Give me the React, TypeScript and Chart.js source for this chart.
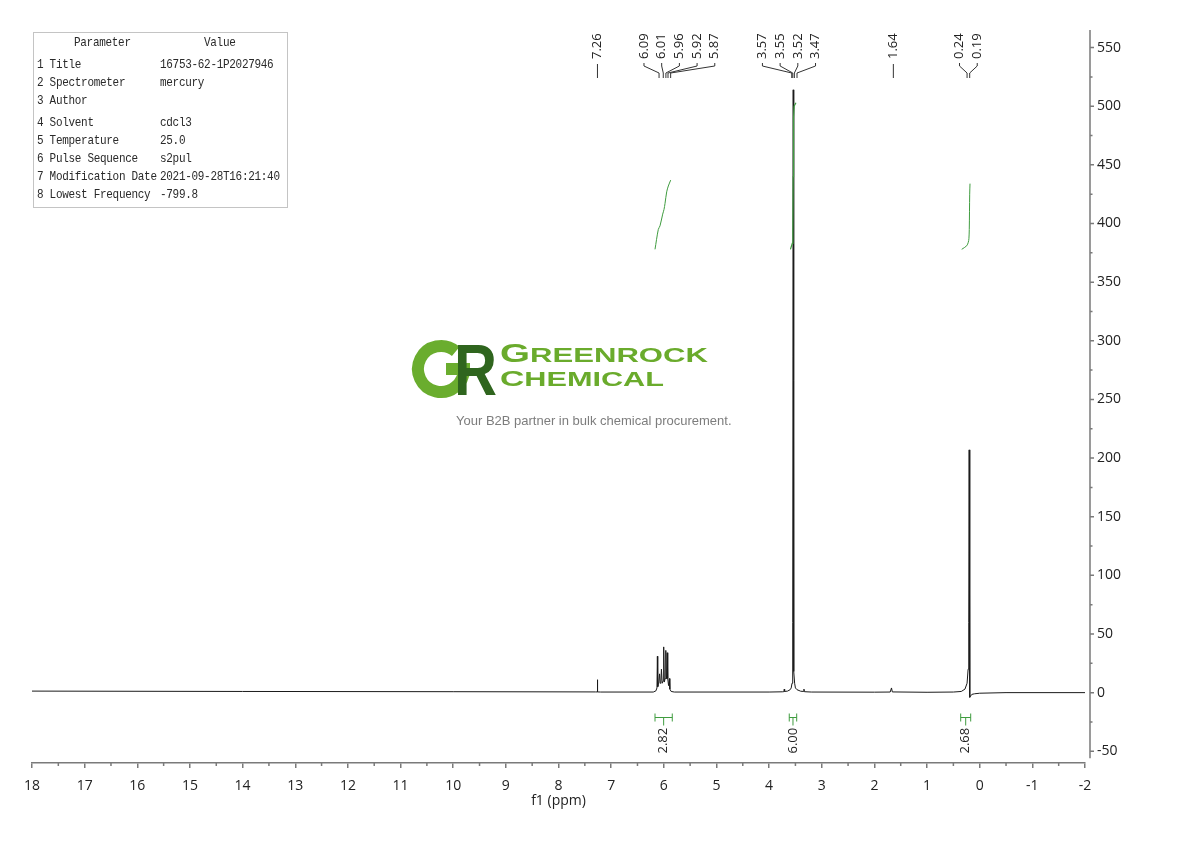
import React, { useEffect, useRef } from 'react';
import { Chart, registerables } from 'chart.js';

Chart.register(...registerables);

// ---------- data ----------
const SPEC_PPM = [
  18.0, 14.0, 10.0, 7.3, 7.268, 7.262, 7.255, 7.2,
  6.2, 6.15, 6.13, 6.122, 6.115, 6.1, 6.08, 6.07, 6.055, 6.045, 6.03, 6.01, 6.002, 5.99,
  5.975, 5.962, 5.952, 5.945, 5.935, 5.925, 5.91, 5.895, 5.885, 5.86, 5.8,
  4.0, 3.75, 3.72, 3.712, 3.705, 3.65, 3.6, 3.58, 3.565, 3.555, 3.548, 3.542, 3.536,
  3.528, 3.515, 3.5, 3.47, 3.4, 3.345, 3.338, 3.33, 3.2,
  2.0, 1.7, 1.675, 1.66, 1.0, 0.5, 0.35, 0.28, 0.24, 0.22, 0.208, 0.2, 0.192, 0.185,
  0.175, 0.15, 0.1, 0.0, -0.5, -2.0,
];
const SPEC_INT = [
  1.3, 1.0, 0.8, 0.6, 0.6, 11, 0.6, 0.5,
  0.5, 1.5, 4, 31, 5, 7, 16, 8, 9, 20, 8, 10, 39, 9,
  12, 36, 14, 12, 34, 12, 6, 12, 3, 1, 0.5,
  0.5, 0.7, 0.8, 3, 1, 1.3, 2.5, 4, 8, 20, 60, 514, 60,
  18, 8, 4, 2.5, 1.2, 1, 3, 0.8, 0.5,
  0.4, 0.5, 4, 0.6, 0.3, 0.5, 1, 3, 8, 20, 60, 207, 40, -4,
  -3, -1.5, -1, -0.5, 0, 0,
];

const INTEGRAL_1_PPM = [6.167, 6.104, 6.072, 6.021, 5.996, 5.977, 5.945, 5.914, 5.869];
const INTEGRAL_1_VAL = [378, 395, 398, 408, 412, 417, 427, 432, 437];
const INTEGRAL_2_PPM = [3.595, 3.56, 3.548, 3.542, 3.536, 3.525, 3.49];
const INTEGRAL_2_VAL = [378, 383, 395, 440, 490, 500, 503];
const INTEGRAL_3_PPM = [0.342, 0.247, 0.217, 0.205, 0.198, 0.19, 0.184];
const INTEGRAL_3_VAL = [378, 381, 384, 387, 395, 425, 434];

const PEAK_GROUPS = [[7.26], [6.09, 6.01, 5.96, 5.92, 5.87], [3.57, 3.55, 3.52, 3.47], [1.64], [0.24, 0.19]];

const INTEGRAL_FROM = [6.167, 3.617, 0.361];
const INTEGRAL_TO = [5.839, 3.476, 0.171];
const INTEGRAL_LABELS = ['2.82', '6.00', '2.68'];

const PARAM_NAMES = ['1 Title', '2 Spectrometer', '3 Author', '4 Solvent', '5 Temperature', '6 Pulse Sequence', '7 Modification Date', '8 Lowest Frequency'];
const PARAM_VALUES = ['16753-62-1P2027946', 'mercury', '', 'cdcl3', '25.0', 's2pul', '2021-09-28T16:21:40', '-799.8'];

const X_MIN = -2;
const X_MAX = 18;
const Y_MIN = -60;
const Y_MAX = 565;
const Y_AXIS_BOTTOM = -56;

// ---------- layout / style ----------
const AXIS_COLOR = '#7a7a7a';
const TEXT_COLOR = '#222';
const SPEC_COLOR = '#1a1a1a';
const GREEN = '#3f9c3f';
const LABEL_GAP = 17.7;
const GROUP_SHIFT = [0, 14, -5, 0, 0];
const ROW_CENTERS = [65, 83, 101, 123, 141, 159, 177, 195];

Chart.defaults.font.family = '"Open Sans", sans-serif';

const axesPlugin = {
  id: 'axesExtra',
  afterDraw(chart: any) {
    const { ctx, chartArea, scales } = chart;
    const x = scales.x;
    const y = scales.y;
    ctx.save();
    ctx.strokeStyle = AXIS_COLOR;
    ctx.lineWidth = 1.5;
    const ax = chartArea.right + 5;
    ctx.beginPath();
    ctx.moveTo(ax, y.getPixelForValue(Y_MAX));
    ctx.lineTo(ax, y.getPixelForValue(Y_AXIS_BOTTOM));
    for (let v = -50; v <= 550; v += 25) {
      const py = y.getPixelForValue(v);
      const len = v % 50 === 0 ? 4 : 2.5;
      ctx.moveTo(ax, py);
      ctx.lineTo(ax + len, py);
    }
    for (let v = X_MIN + 0.5; v < X_MAX; v += 1) {
      const px = x.getPixelForValue(v);
      ctx.moveTo(px, chartArea.bottom);
      ctx.lineTo(px, chartArea.bottom + 3);
    }
    ctx.stroke();
    ctx.restore();
  },
};

const peakLabelPlugin = {
  id: 'peakLabels',
  afterDraw(chart: any) {
    const { ctx, chartArea, scales } = chart;
    const x = scales.x;
    const top = chartArea.top;
    ctx.save();
    ctx.font = '13px "Open Sans", sans-serif';
    ctx.fillStyle = TEXT_COLOR;
    ctx.strokeStyle = '#333';
    ctx.lineWidth = 1;
    PEAK_GROUPS.forEach((g, gi) => {
      const px = g.map((p) => x.getPixelForValue(p));
      const mean = px.reduce((a, b) => a + b, 0) / px.length;
      const n = g.length;
      const start = mean + GROUP_SHIFT[gi] - ((n - 1) * LABEL_GAP) / 2;
      g.forEach((p, i) => {
        const lx = n === 1 ? px[i] : start + i * LABEL_GAP;
        ctx.save();
        ctx.translate(lx, top + 29);
        ctx.rotate(-Math.PI / 2);
        ctx.textAlign = 'left';
        ctx.textBaseline = 'middle';
        ctx.fillText(p.toFixed(2), 0, 0);
        ctx.restore();
        ctx.beginPath();
        if (n === 1) {
          ctx.moveTo(lx, top + 34);
          ctx.lineTo(px[i], top + 48);
        } else {
          ctx.moveTo(lx, top + 33);
          ctx.lineTo(lx, top + 36);
          ctx.lineTo(px[i], top + 43);
          ctx.lineTo(px[i], top + 48);
        }
        ctx.stroke();
      });
    });
    ctx.restore();
  },
};

const integrationPlugin = {
  id: 'integrations',
  afterDraw(chart: any) {
    const { ctx, scales } = chart;
    const x = scales.x;
    const y = scales.y;
    const by = Math.round(y.getPixelForValue(-21)) + 0.5;
    ctx.save();
    INTEGRAL_FROM.forEach((from, i) => {
      const x1 = x.getPixelForValue(from);
      const x2 = x.getPixelForValue(INTEGRAL_TO[i]);
      const cx = (x1 + x2) / 2;
      ctx.strokeStyle = GREEN;
      ctx.lineWidth = 1;
      ctx.beginPath();
      ctx.moveTo(x1, by);
      ctx.lineTo(x2, by);
      ctx.moveTo(x1, by - 4);
      ctx.lineTo(x1, by + 4);
      ctx.moveTo(x2, by - 4);
      ctx.lineTo(x2, by + 4);
      ctx.moveTo(cx, by);
      ctx.lineTo(cx, by + 8);
      ctx.stroke();
      ctx.save();
      ctx.translate(cx, by + 36);
      ctx.rotate(-Math.PI / 2);
      ctx.font = '13px "Open Sans", sans-serif';
      ctx.fillStyle = TEXT_COLOR;
      ctx.textAlign = 'left';
      ctx.textBaseline = 'middle';
      ctx.fillText(INTEGRAL_LABELS[i], 0, 0);
      ctx.restore();
    });
    ctx.restore();
  },
};

const toPoints = (xs: number[], ys: number[]) => xs.map((v, i) => ({ x: v, y: ys[i] }));

function ParamTable() {
  const font = '"Liberation Mono", "DejaVu Sans Mono", monospace';
  const cell: React.CSSProperties = { position: 'absolute', transform: 'scaleY(1.12)', transformOrigin: 'left center' };
  return (
    <div
      style={{
        position: 'absolute',
        left: 33,
        top: 32,
        width: 253,
        height: 174,
        border: '1px solid #c4c4c4',
        fontFamily: font,
        fontSize: 11,
        letterSpacing: '-0.3px',
        color: '#2a2a2a',
        lineHeight: '14px',
        whiteSpace: 'pre',
      }}
    >
      <div style={{ ...cell, left: 40, top: 43 - 33 - 7 }}>Parameter</div>
      <div style={{ ...cell, left: 170, top: 43 - 33 - 7 }}>Value</div>
      {PARAM_NAMES.map((n, i) => (
        <React.Fragment key={n}>
          <div style={{ ...cell, left: 3, top: ROW_CENTERS[i] - 33 - 7 }}>{n}</div>
          <div style={{ ...cell, left: 126, top: ROW_CENTERS[i] - 33 - 7 }}>{PARAM_VALUES[i]}</div>
        </React.Fragment>
      ))}
    </div>
  );
}

function Logo() {
  const sans = '"Liberation Sans", Arial, sans-serif';
  return (
    <>
      <svg
        width={1190}
        height={841}
        style={{ position: 'absolute', left: 0, top: 0, pointerEvents: 'none' }}
      >
        <path
          d="M 455.8 351.4 A 23 23 0 1 0 464 369 L 446 369"
          stroke="#6aad2e"
          strokeWidth={12}
          fill="none"
        />
        <text
          x={454}
          y={395}
          style={{ fontFamily: sans, fontWeight: 700, fontSize: 72 }}
          fill="#2f651e"
          textLength={43}
          lengthAdjust="spacingAndGlyphs"
        >
          R
        </text>
        <text
          x={500}
          y={362}
          style={{ fontFamily: sans, fontWeight: 700 }}
          fill="#6aab2c"
          textLength={208}
          lengthAdjust="spacingAndGlyphs"
        >
          <tspan style={{ fontSize: 26 }}>G</tspan>
          <tspan style={{ fontSize: 21 }}>REENROCK</tspan>
        </text>
        <text
          x={500}
          y={386}
          style={{ fontFamily: sans, fontWeight: 700 }}
          fill="#6aab2c"
          textLength={164}
          lengthAdjust="spacingAndGlyphs"
        >
          <tspan style={{ fontSize: 22 }}>C</tspan>
          <tspan style={{ fontSize: 20 }}>HEMICAL</tspan>
        </text>
      </svg>
      <div
        style={{
          position: 'absolute',
          left: 456,
          top: 413,
          fontFamily: sans,
          fontSize: 13,
          color: '#7d7d7d',
          whiteSpace: 'nowrap',
        }}
      >
        Your B2B partner in bulk chemical procurement.
      </div>
    </>
  );
}

export default function App() {
  const ref = useRef<HTMLCanvasElement>(null);
  useEffect(() => {
    if (!ref.current) return;
    const chart = new Chart(ref.current, {
      type: 'line',
      data: {
        datasets: [
          {
            data: toPoints(SPEC_PPM, SPEC_INT),
            borderColor: SPEC_COLOR,
            borderWidth: 1,
            pointRadius: 0,
            tension: 0,
            order: 2,
          },
          {
            data: toPoints(INTEGRAL_1_PPM, INTEGRAL_1_VAL),
            borderColor: GREEN,
            borderWidth: 1,
            pointRadius: 0,
            tension: 0.3,
            order: 1,
          },
          {
            data: toPoints(INTEGRAL_2_PPM, INTEGRAL_2_VAL),
            borderColor: GREEN,
            borderWidth: 1.2,
            pointRadius: 0,
            tension: 0,
            order: 1,
          },
          {
            data: toPoints(INTEGRAL_3_PPM, INTEGRAL_3_VAL),
            borderColor: GREEN,
            borderWidth: 1,
            pointRadius: 0,
            tension: 0.3,
            order: 1,
          },
        ],
      },
      options: {
        responsive: false,
        animation: false,
        events: [],
        layout: { padding: { left: 32, top: 30, right: 0, bottom: 0 } },
        plugins: {
          legend: { display: false },
          tooltip: { enabled: false },
        },
        scales: {
          x: {
            type: 'linear',
            reverse: true,
            min: X_MIN,
            max: X_MAX,
            position: 'bottom',
            afterFit: (s: any) => {
              s.height = 78;
            },
            border: { display: true, color: AXIS_COLOR, width: 1.5 },
            grid: { drawOnChartArea: false, drawTicks: true, tickLength: 5, color: AXIS_COLOR, lineWidth: 1.5 },
            ticks: {
              stepSize: 1,
              autoSkip: false,
              maxRotation: 0,
              padding: 10,
              color: TEXT_COLOR,
              font: { size: 14 },
              callback: (v: any) => String(v),
            },
            title: {
              display: true,
              text: 'f1 (ppm)',
              color: TEXT_COLOR,
              font: { size: 14 },
              padding: { top: 0, bottom: 32 },
            },
          },
          y: {
            type: 'linear',
            position: 'right',
            min: Y_MIN,
            max: Y_MAX,
            afterFit: (s: any) => {
              s.width = 105;
            },
            border: { display: false },
            grid: { display: false, drawTicks: false },
            ticks: {
              stepSize: 50,
              includeBounds: false,
              padding: 12,
              color: TEXT_COLOR,
              font: { size: 14 },
            },
          },
        },
      } as any,
      plugins: [axesPlugin, peakLabelPlugin, integrationPlugin],
    });
    return () => chart.destroy();
  }, []);

  return (
    <div style={{ position: 'absolute', left: 0, top: 0, width: 1190, height: 841, background: '#fff', overflow: 'hidden' }}>
      <canvas ref={ref} width={1190} height={841} style={{ position: 'absolute', left: 0, top: 0, width: 1190, height: 841 }} />
      <ParamTable />
      <Logo />
    </div>
  );
}
